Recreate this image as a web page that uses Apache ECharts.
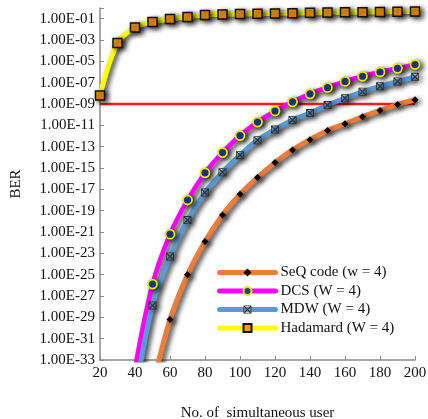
<!DOCTYPE html>
<html><head><meta charset="utf-8">
<script src="https://cdn.jsdelivr.net/npm/echarts@6/dist/echarts.min.js"></script>
<style>html,body{margin:0;padding:0;background:#fff}#c{width:428px;height:419px}</style>
</head><body><div id="c"></div>
<script>
// x categories: number of simultaneous users
const users = [20,30,40,50,60,70,80,90,100,110,120,130,140,150,160,170,180,190,200];
// BER values (null = not drawn / below axis)
const seqBER = [null,null,null,3e-36,6.3e-30,1.0e-25,1.3e-22,4.0e-20,3.5e-18,1.3e-16,3.2e-15,5.0e-14,4.5e-13,3.2e-12,1.4e-11,6.3e-11,2.5e-10,8.9e-10,2.5e-9];
const dcsBER = [null,null,1.6e-34,1.3e-26,6.3e-22,1.0e-18,3.5e-16,2.8e-14,1.1e-12,2.0e-11,2.2e-10,1.6e-9,8.9e-9,3.5e-8,1.3e-7,4.0e-7,1.0e-6,2.2e-6,5.0e-6];
const mdwBER = [null,null,5e-37,1.3e-28,5.0e-24,1.3e-20,5.0e-18,4.0e-16,1.6e-14,4.0e-13,4.0e-12,3.2e-11,1.4e-10,7.9e-10,3.5e-9,1.4e-8,4.5e-8,1.3e-7,3.5e-7];
const hadBER = [6.3e-9,5.2e-4,1.5e-2,4.9e-2,9.3e-2,0.145,0.22,0.245,0.27,0.29,0.31,0.33,0.355,0.37,0.39,0.41,0.43,0.45,0.47];
const thresholdBER = 1e-9;
const thresholdUsers = [20, 200];
// y tick labels (every 2 decades, from bottom)
const yTickLabels = ['1.00E-33','1.00E-31','1.00E-29','1.00E-27','1.00E-25','1.00E-23','1.00E-21','1.00E-19','1.00E-17','1.00E-15','1.00E-13','1.00E-11','1.00E-09','1.00E-07','1.00E-05','1.00E-03','1.00E-01'];
const seriesNames = ['SeQ code (w = 4)','DCS (W = 4)','MDW (W = 4)','Hadamard (W = 4)'];

const OFFSET = 33; // axis shows log10(BER) shifted so that 1E-33 is 0
const toPts = arr => users.map((u, i) => arr[i] == null ? [u, null] : [u, Math.log10(arr[i]) + OFFSET]);

const FONT = 'Liberation Serif';
const shadow = {shadowColor:'rgba(0,0,0,0.75)', shadowBlur:5, shadowOffsetX:3, shadowOffsetY:2};
const mdwPath = 'path://M0,0 L10,0 L10,10 L0,10 Z M1,2 L1,8 L4,5 Z M2,1 L5,4 L8,1 Z M9,2 L6,5 L9,8 Z M2,9 L8,9 L5,6 Z';

const chart = echarts.init(document.getElementById('c'), null, {renderer:'canvas'});
chart.setOption({
  backgroundColor:'#fff',
  animation:false,
  grid:{left:100, right:13, top:8, bottom:59, containLabel:false, outerBoundsMode:'none'},
  legend:{
    orient:'vertical', left:212, top:260, itemWidth:56, itemHeight:10, itemGap:3.5,
    data:seriesNames,
    textStyle:{fontFamily:FONT, fontSize:15, color:'#111'},
    lineStyle:{width:5, cap:'round', shadowBlur:0, shadowOffsetX:0, shadowOffsetY:0, shadowColor:'transparent'},
    itemStyle:{shadowBlur:0, shadowOffsetX:0, shadowOffsetY:0, shadowColor:'transparent'}
  },
  xAxis:{
    type:'value', min:20, max:200, interval:20,
    name:'No. of  simultaneous user', nameLocation:'middle', nameGap:46,
    nameTextStyle:{fontFamily:FONT, fontSize:15, color:'#111'},
    axisLine:{lineStyle:{color:'#8a8a8a', width:1.5}},
    axisTick:{inside:true, length:4, lineStyle:{color:'#8a8a8a'}},
    axisLabel:{fontFamily:FONT, fontSize:15, color:'#111', margin:6},
    splitLine:{show:false}
  },
  yAxis:{
    type:'value', min:0, max:33, interval:2,
    name:'BER', nameLocation:'middle', nameGap:76,
    nameTextStyle:{fontFamily:FONT, fontSize:15, color:'#111'},
    axisLine:{show:true, lineStyle:{color:'#8a8a8a', width:1.5}},
    axisTick:{show:true, inside:true, length:4, lineStyle:{color:'#8a8a8a'}},
    axisLabel:{fontFamily:FONT, fontSize:15, color:'#111', margin:5,
      formatter: v => yTickLabels[v/2] || ''},
    splitLine:{show:false}
  },
  series:[
    {
      name:'threshold', type:'line', silent:true, symbol:'none', z:1,
      data: thresholdUsers.map(u => [u, Math.log10(thresholdBER) + OFFSET]),
      lineStyle:{color:'#ff1a1a', width:2.5}
    },
    {
      name:seriesNames[0], type:'line', smooth:0.35, data:toPts(seqBER),
      symbol:'diamond', symbolSize:7,
      lineStyle:Object.assign({color:'#ee7d3a', width:5}, shadow),
      itemStyle:Object.assign({color:'#000'}, shadow),
      color:'#ee7d3a'
    },
    {
      name:seriesNames[1], type:'line', smooth:0.35, data:toPts(dcsBER),
      symbol:'circle', symbolSize:9,
      lineStyle:Object.assign({color:'#ff00ff', width:4.5}, shadow),
      itemStyle:Object.assign({color:'#1f3f9c', borderColor:'#e6e600', borderWidth:1.8}, shadow)
    },
    {
      name:seriesNames[2], type:'line', smooth:0.35, data:toPts(mdwBER),
      symbol:mdwPath, symbolSize:8,
      lineStyle:Object.assign({color:'#5b9bd5', width:5}, shadow),
      itemStyle:Object.assign({color:'#333'}, shadow)
    },
    {
      name:seriesNames[3], type:'line', smooth:0.35, data:toPts(hadBER), clip:false,
      symbol:'rect', symbolSize:9,
      lineStyle:Object.assign({color:'#ffff00', width:5}, shadow),
      itemStyle:Object.assign({color:'#ff9900', borderColor:'#111', borderWidth:1.5}, shadow)
    }
  ]
});
</script></body></html>
